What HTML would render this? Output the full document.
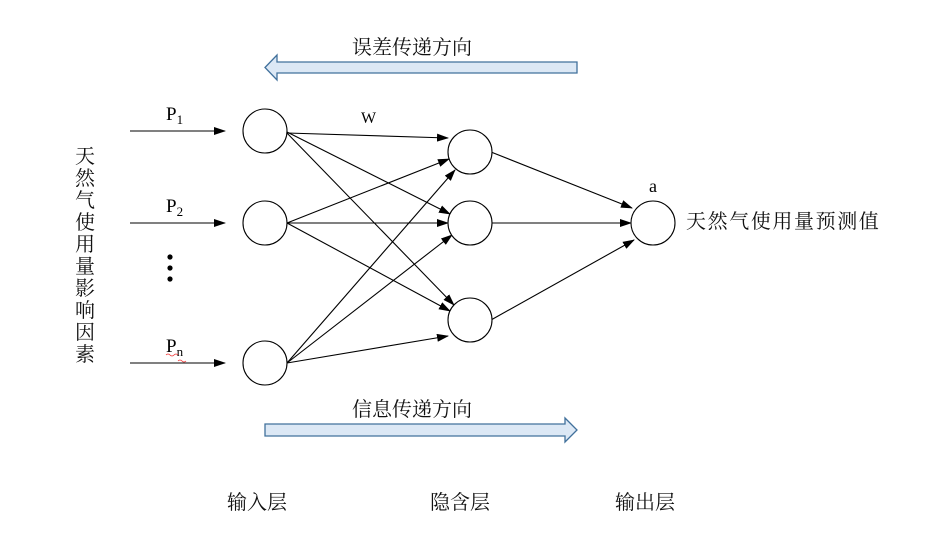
<!DOCTYPE html>
<html><head><meta charset="utf-8"><style>
body{margin:0;background:#fff}
svg text{font-family:"Liberation Serif","Noto Serif CJK SC",serif}
.cj{font-family:"Liberation Serif","Noto Serif CJK SC",serif;font-size:20px;fill:#111}
</style></head><body>
<svg width="951" height="548" viewBox="0 0 951 548" xmlns="http://www.w3.org/2000/svg">
<defs><marker id="a" markerWidth="12" markerHeight="8" refX="11" refY="4" orient="auto" markerUnits="userSpaceOnUse"><path d="M0,0 L12,4 L0,8 Z" fill="#000"/></marker></defs>
<polygon points="265,67.5 277,55 277,62 577,62 577,73 277,73 277,80" fill="#dce8f5" stroke="#41719c" stroke-width="1.3"/>
<polygon points="265,424 565,424 565,418 577,430 565,442 565,436 265,436" fill="#dce8f5" stroke="#41719c" stroke-width="1.3"/>
<text class="cj" x="412" y="54" text-anchor="middle">误差传递方向</text>
<text class="cj" x="412" y="416" text-anchor="middle">信息传递方向</text>
<g stroke="#000" stroke-width="1.1" marker-end="url(#a)">
<line x1="130" y1="131" x2="225" y2="131"/>
<line x1="130" y1="223" x2="225" y2="223"/>
<line x1="130" y1="363" x2="225" y2="363"/>
<line x1="287" y1="133" x2="448" y2="138"/>
<line x1="285" y1="131" x2="450" y2="214"/>
<line x1="285" y1="131" x2="454" y2="305"/>
<line x1="287" y1="223" x2="449" y2="159"/>
<line x1="287" y1="223" x2="448" y2="223"/>
<line x1="287" y1="223" x2="450" y2="311"/>
<line x1="287" y1="363" x2="455" y2="170"/>
<line x1="287" y1="363" x2="452" y2="235"/>
<line x1="287" y1="363" x2="448" y2="336"/>
<line x1="491" y1="152" x2="632" y2="208"/>
<line x1="492" y1="223" x2="631" y2="223"/>
<line x1="491" y1="320" x2="634" y2="240"/>
</g>
<g fill="#fff" stroke="#000" stroke-width="1.1">
<circle cx="265" cy="131" r="22"/><circle cx="265" cy="223" r="22"/><circle cx="265" cy="363" r="22"/>
<circle cx="470" cy="152" r="22"/><circle cx="470" cy="223" r="22"/><circle cx="470" cy="320" r="22"/>
<circle cx="653" cy="223" r="22"/>
</g>
<text x="166" y="120" font-size="19">P<tspan font-size="13" dy="4">1</tspan></text>
<text x="166" y="212" font-size="19">P<tspan font-size="13" dy="4">2</tspan></text>
<text x="166" y="352" font-size="19">P<tspan font-size="13" dy="4">n</tspan></text>
<path d="M166,355 q2,-2 4,0 t4,0 t4,0 M178,361 q2,-2 4,0 t4,0" stroke="#e33" fill="none" stroke-width="0.8"/>
<text x="361" y="123" font-size="16" font-family="Liberation Mono,monospace">W</text>
<circle cx="170" cy="257" r="2.6"/><circle cx="170" cy="268" r="2.6"/><circle cx="170" cy="279" r="2.6"/>
<text x="649" y="192" font-size="18" font-family="Liberation Sans,sans-serif">a</text>
<text class="cj" x="686" y="228" letter-spacing="1.6">天然气使用量预测值</text>
<g class="cj" text-anchor="middle">
<text x="85" y="163">天</text><text x="85" y="185">然</text><text x="85" y="207">气</text><text x="85" y="229">使</text><text x="85" y="251">用</text><text x="85" y="273">量</text><text x="85" y="295">影</text><text x="85" y="317">响</text><text x="85" y="339">因</text><text x="85" y="361">素</text>
<text x="257" y="509">输入层</text><text x="460" y="509">隐含层</text><text x="645" y="509">输出层</text>
</g>
</svg>
</body></html>
